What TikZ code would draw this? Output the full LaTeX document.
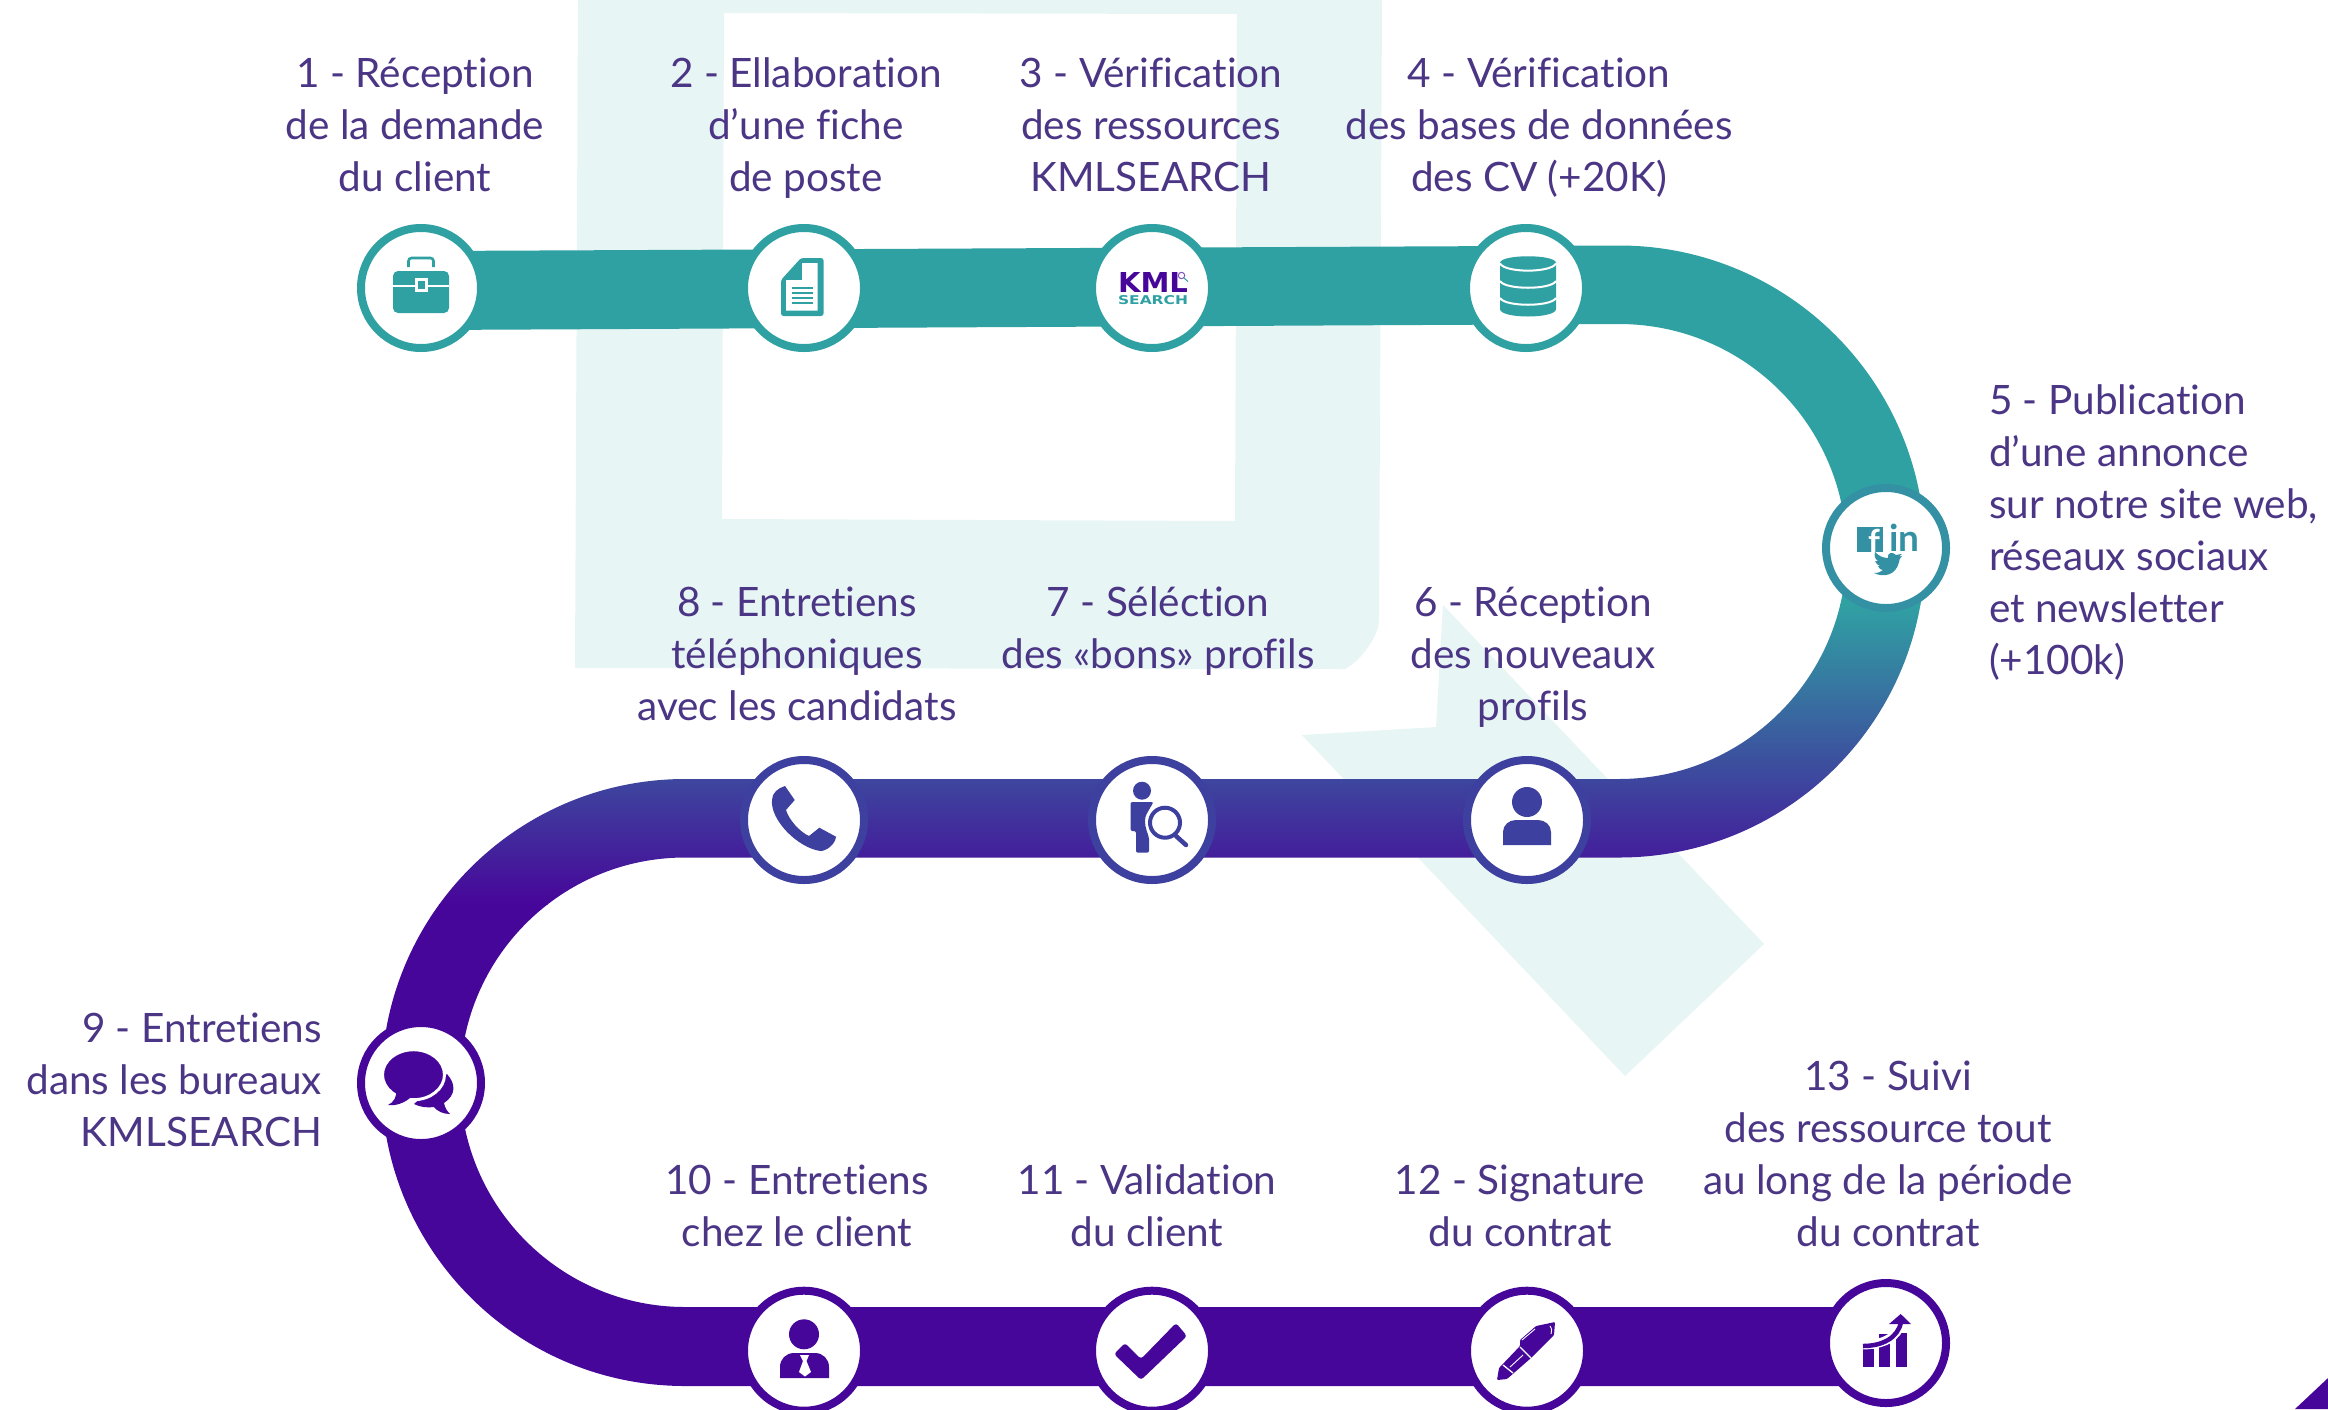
\documentclass[tikz,border=0pt]{standalone}
\usepackage{fontspec}
\usepackage{graphicx}
\setmainfont{Lato}[Ligatures=NoCommon]
\newfontfamily\logofont{DejaVu Sans}
\newcommand\bs{\vrule width 0pt height 30pt depth 10pt\relax}
\definecolor{tealc}{HTML}{30A1A3}
\definecolor{purp}{HTML}{47069A}
\definecolor{pale}{HTML}{E8F5F5}
\definecolor{txt}{HTML}{4B3585}
\definecolor{midc}{HTML}{3D409E}
\definecolor{socc}{HTML}{3491A3}
\tikzset{
  ring/.style={circle,draw=#1,fill=white,line width=8pt,minimum size=120pt,inner sep=0pt,outer sep=0pt},
  lbl/.style={text=txt,inner sep=0pt,outer sep=0pt,font=\fontsize{40.5}{52}\selectfont,align=center},
  lblr/.style={lbl,align=right},
  lbll/.style={lbl,align=left},
}
\begin{document}
\begin{tikzpicture}[x=1pt,y=1pt,yscale=-1]
\useasboundingbox (0,0) rectangle (2328,1409);
\fill[white] (0,0) rectangle (2328,1409);
% pale logo
\fill[pale,even odd rule] (578,0) -- (575,668) -- (1345,669) .. controls (1362,660) and (1379,635) .. (1379,620) -- (1382,0) -- cycle
  (724,13) -- (1237,14) -- (1235,521) -- (722,519) -- cycle;
\fill[pale] (1443,605) -- (1436,727) -- (1302,735) -- (1625,1076) -- (1764,944) -- cycle;
% corner
\fill[purp] (2328,1378) -- (2295,1409) -- (2328,1409) -- cycle;
% band
\begin{scope}
\clip (430,251) -- (1619,245.5) arc[start angle=-90,end angle=90,radius=306pt]
  -- (685,857.5) arc[start angle=-90,end angle=-270,radius=224.75pt]
  -- (1886,1307) -- (1886,1386) -- (685,1386)
  arc[start angle=90,end angle=270,radius=303.5pt]
  -- (1619,779) arc[start angle=90,end angle=-90,radius=227.5pt]
  -- (430,330) -- cycle;
\fill[tealc] (300,200) rectangle (2000,604.5);
\shade[top color=tealc,bottom color=purp] (300,604) rectangle (2000,904);
\fill[purp] (300,903.5) rectangle (2000,1409);
\end{scope}
% step rings
\node[ring=tealc] (s1) at (421,288) {};
\node[ring=tealc] (s2) at (804,288) {};
\node[ring=tealc] (s3) at (1152,288) {};
\node[ring=tealc] (s4) at (1526,288) {};
\node[ring=socc] (s5) at (1886,548) {};
\node[ring=midc] (s6) at (1527,820) {};
\node[ring=midc] (s7) at (1152,820) {};
\node[ring=midc] (s8) at (804,820) {};
\node[ring=purp] (s9) at (421,1083) {};
\node[ring=purp] (s10) at (804,1350.7) {};
\node[ring=purp] (s11) at (1152,1350.7) {};
\node[ring=purp] (s12) at (1527,1350.7) {};
\node[ring=purp] (s13) at (1886,1343) {};
% icon 1 briefcase
\draw[tealc,line width=2.6pt,rounded corners=3pt] (408.5,267) -- (408.5,258) -- (433.5,258) -- (433.5,267);
\fill[tealc,rounded corners=5pt] (393,271) rectangle (449,313);
\draw[white,line width=2pt] (393,286) -- (449,286);
\fill[white] (415,278) rectangle (428,292);
\fill[tealc] (418,281) rectangle (425,288.5);
% icon 2 document
\fill[tealc,rounded corners=2.5pt] (781,280) -- (801,258) -- (823.5,258) -- (823.5,316) -- (781,316) -- cycle;
\fill[white] (802,263) -- (817.5,263) -- (817.5,310.5) -- (786,310.5) -- (786,280) -- (802,280) -- cycle;
\foreach \yy in {288,293,298,303} \draw[tealc,line width=2.2pt] (792,\yy) -- (813,\yy);
% icon 3 KML
\node[inner sep=0pt,text=purp,font=\logofont\bfseries] (kml) at (1153,282) {\resizebox{70pt}{20pt}{KML}};
\node[inner sep=0pt,text=tealc,font=\logofont\bfseries] (srch) at (1153,300.5) {\resizebox{70pt}{9pt}{SEARCH}};
\draw[purp!70,line width=1pt] (1181.5,275.5) circle[radius=3.2pt];
\draw[tealc,line width=1pt] (1184,278) -- (1188,281.5);
% icon 4 database
\fill[tealc] (1500,263) .. controls (1500,254) and (1556,254) .. (1556,263) -- (1556,309) .. controls (1556,319) and (1500,319) .. (1500,309) -- cycle;
\draw[white,line width=2pt] (1500,263.5) .. controls (1505,273) and (1551,273) .. (1556,263.5);
\draw[white,line width=2pt] (1500,281) .. controls (1505,290) and (1551,290) .. (1556,281);
\draw[white,line width=2pt] (1500,298) .. controls (1505,307) and (1551,307) .. (1556,298);
% icon 5 social
\fill[socc] (1857,527) rectangle (1883,552);
\node[inner sep=0pt,text=white,font=\bfseries\fontsize{33}{33}\selectfont] (fb) at (1874,541) {f};
\node[inner sep=0pt,text=socc,font=\bfseries\fontsize{37}{37}\selectfont] (li) at (1904.5,538) {in};
\fill[socc] (1902,554) .. controls (1899,554) and (1898,555) .. (1896,555) .. controls (1892,551) and (1887,553) .. (1888,558)
  .. controls (1883,558) and (1879,556) .. (1875,552) .. controls (1874,556) and (1875,559) .. (1878,561)
  -- (1875,561) .. controls (1876,564) and (1878,565) .. (1880,566) -- (1878,566) .. controls (1879,569) and (1881,570) .. (1883,570)
  .. controls (1881,572) and (1878,573) .. (1874,573) .. controls (1884,578) and (1896,575) .. (1899,562)
  .. controls (1899,560) and (1900,558) .. (1902,556) -- (1899,556.5) -- cycle;
% icon 6 person
\fill[midc] (1527,802) circle[radius=15pt];
\fill[midc] (1503,845) -- (1503,832) .. controls (1503,825) and (1509,820) .. (1516,820) -- (1538,820) .. controls (1545,820) and (1551,825) .. (1551,832) -- (1551,845) -- cycle;
% icon 7 search profile
\fill[midc] (1142,790.7) circle[radius=9pt];
\fill[midc,rounded corners=2pt] (1130.5,802) -- (1153.5,802) -- (1146,815) .. controls (1144,822) and (1146,830) .. (1149,837) -- (1149,852.7) -- (1136,852.7) -- (1136,831) -- (1130.5,831) -- cycle;
\draw[midc,line width=4pt] (1165,822.7) circle[radius=15pt];
\draw[midc,line width=4.5pt,line cap=round] (1176,836) -- (1186,845);
% icon 8 phone
\fill[midc] (785,786) -- (794.7,800) -- (786,810) .. controls (789,820) and (800,832) .. (809,836) -- (819.4,827.7) -- (836,836.7) .. controls (835,845) and (826,851) .. (820.5,851) .. controls (798,848) and (770,820) .. (772,800) .. controls (772,793) and (778,788) .. (785,786) -- cycle;
% icon 9 bubbles
\fill[purp] (447,1074) .. controls (456,1084) and (456,1095) .. (444,1103) .. controls (445,1108) and (447,1111) .. (450,1114) .. controls (443,1114) and (437,1111) .. (434,1107) .. controls (427,1108) and (420,1107) .. (414,1104) -- (430,1090) -- cycle;
\fill[purp,draw=white,line width=3pt] (413.5,1074.7) ellipse[x radius=31pt,y radius=25pt];
\fill[purp] (396,1090) .. controls (397,1097) and (394,1102) .. (388,1105) .. controls (396,1106) and (404,1103) .. (410,1098) -- cycle;
% icon 10 client
\fill[purp] (804,1334.3) circle[radius=15pt];
\fill[purp] (780,1378) -- (780,1367) .. controls (780,1359) and (786,1353) .. (794,1353) -- (815,1353) .. controls (823,1353) and (829,1359) .. (829,1367) -- (829,1378) -- cycle;
\fill[white] (800,1355) -- (809,1355) -- (806.5,1361) -- (811,1372) -- (805,1376.5) -- (799,1372) -- (803,1361) -- cycle;
% icon 11 check
\fill[purp,rounded corners=3pt] (1125,1343) -- (1141,1359) -- (1176,1323) -- (1187,1336) -- (1141,1380) -- (1114,1354) -- cycle;
% icon 12 pen
\fill[purp,rounded corners=1pt] (1555,1322) -- (1554,1335) -- (1531,1358) -- (1507,1379) -- (1497,1380) -- (1499,1368) -- (1520,1346) -- (1520,1340) -- (1536,1326) -- cycle;
\draw[white,line width=1.3pt] (1520,1347) -- (1531,1358);
\draw[white,line width=1.3pt] (1503,1365) -- (1513,1373);
\draw[white,line width=.9pt] (1522,1340) -- (1535,1329);
\draw[white,line width=.9pt] (1510,1367) -- (1523,1355);
\draw[white,line width=.9pt] (1550,1326) .. controls (1552,1329) and (1552,1331) .. (1551,1334);
% icon 13 growth
\fill[purp] (1863,1349) rectangle (1874,1367);
\fill[purp] (1879,1334) rectangle (1890,1367);
\fill[purp] (1896,1333) rectangle (1907,1367);
\draw[white,line width=9pt] (1861,1345) .. controls (1882,1345) and (1898,1338) .. (1901,1322);
\fill[white] (1907,1329) rectangle (1912,1340);
\draw[purp,line width=4.5pt] (1863,1346) .. controls (1882,1346) and (1898,1338) .. (1901,1322);
\fill[purp] (1900.7,1314) -- (1889,1324) -- (1911,1324) -- cycle;
% labels
\node[lbl] (t1) at (415,129) {\bs 1 - Réception\\de la demande\\\bs du client};
\node[lbl] (t2) at (806,129) {\bs 2 - Ellaboration\\d’une fiche\\\bs de poste};
\node[lbl] (t3) at (1151,129) {\bs 3 - Vérification\\des ressources\\\bs KMLSEARCH};
\node[lbl] (t4) at (1539,129) {\bs 4 - Vérification\\des bases de données\\\bs des CV (+20K)};
\node[lbll,anchor=west] (t5) at (1989,534.7) {\bs 5 - Publication\\d’une annonce\\sur notre site web,\\réseaux sociaux\\et newsletter\\\bs (+100k)};
\node[lbl] (t6) at (1533,658) {\bs 6 - Réception\\des nouveaux\\\bs profils};
\node[lbl] (t7) at (1158,632) {\bs 7 - Séléction\\\bs des «bons» profils};
\node[lbl] (t8) at (797,658) {\bs 8 - Entretiens\\téléphoniques\\\bs avec les candidats};
\node[lblr,anchor=east] (t9) at (322,1084) {\bs 9 - Entretiens\\dans les bureaux\\\bs KMLSEARCH};
\node[lbl] (t10) at (797,1210) {\bs 10 - Entretiens\\\bs chez le client};
\node[lbl] (t11) at (1147,1210) {\bs 11 - Validation\\\bs du client};
\node[lbl] (t12) at (1520,1210) {\bs 12 - Signature\\\bs du contrat};
\node[lbl] (t13) at (1888,1158) {\bs 13 - Suivi\\des ressource tout\\au long de la période\\\bs du contrat};
\end{tikzpicture}
\end{document}
